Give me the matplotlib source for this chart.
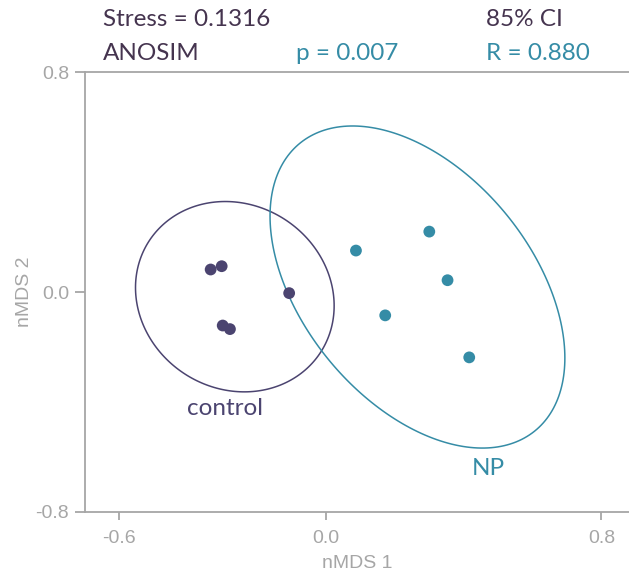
import numpy as np
import matplotlib
matplotlib.use("Agg")
import matplotlib.pyplot as plt
from matplotlib.patches import Polygon

# nMDS scores
control_x = [-0.335, -0.303, -0.300, -0.279, -0.107]
control_y = [0.082, 0.094, -0.122, -0.135, -0.004]
np_x = [0.087, 0.300, 0.353, 0.172, 0.416]
np_y = [0.151, 0.220, 0.043, -0.085, -0.238]

group_names = ["control", "NP"]
stress = 0.1316
anosim_p = 0.007
anosim_r = 0.880
ci_level = 0.85

x_ticks = [-0.6, 0.0, 0.8]
y_ticks = [-0.8, 0.0, 0.8]

PURPLE = "#4b4470"
TEAL = "#358ca6"
TXT_PURPLE = "#45344f"
GREY = "#a6a6a6"

plt.rcParams["font.family"] = ["Liberation Sans", "DejaVu Sans"]
LABEL_FONT = ["Lato", "DejaVu Sans"]


def ci_ellipse(x, y, level, n_pts=240):
    # Hotelling-type confidence ellipse around the group centroid
    pts = np.column_stack([x, y])
    n = len(pts)
    mean = pts.mean(axis=0)
    cov = np.cov(pts, rowvar=False)
    d2 = n - 2
    fq = d2 / 2 * ((1 - level) ** (-2 / d2) - 1)
    k = np.sqrt(2 * (n - 1) / d2 * fq)
    L = np.linalg.cholesky(cov)
    t = np.linspace(0, 2 * np.pi, n_pts, endpoint=False)
    circ = np.vstack([np.cos(t), np.sin(t)])
    ell = mean[:, None] + k * L @ circ
    return ell.T


fig = plt.figure(figsize=(6.29, 5.74), dpi=100)
ax = fig.add_axes([0.1351, 0.1085, 0.8649, 0.7655])

for xs, ys, col in [(control_x, control_y, PURPLE), (np_x, np_y, TEAL)]:
    ell = ci_ellipse(xs, ys, ci_level)
    ax.add_patch(Polygon(ell, closed=True, fill=False, edgecolor=col,
                         lw=1.1, zorder=2))
    ax.scatter(xs, ys, s=72, color=col, edgecolors="none", zorder=3)

ax.set_xlim(-0.7, 0.88)
ax.set_ylim(-0.8, 0.8)
ax.set_xticks(x_ticks)
ax.set_yticks(y_ticks)
ax.set_xticklabels([f"{v:.1f}" for v in x_ticks])
ax.set_yticklabels([f"{v:.1f}" for v in y_ticks])

for side in ["left", "top", "bottom"]:
    ax.spines[side].set_color(GREY)
    ax.spines[side].set_linewidth(1.3)
ax.spines["right"].set_visible(False)
ax.tick_params(axis="both", colors=GREY, labelsize=14, width=1.3)
ax.tick_params(axis="y", length=7.5, pad=4)
ax.tick_params(axis="x", length=6, pad=7)
ax.set_xlabel("nMDS 1", color=GREY, fontsize=14, labelpad=6)
ax.set_ylabel("nMDS 2", color=GREY, fontsize=14, labelpad=2)

# group labels
ax.text(-0.293, -0.424, group_names[0], color=PURPLE, fontsize=17.5,
        family=LABEL_FONT, ha="center", va="center")
ax.text(0.47, -0.643, group_names[1], color=TEAL, fontsize=17.5,
        family=LABEL_FONT, ha="center", va="center")

# header annotations
hdr = dict(fontsize=17.5, family=LABEL_FONT, va="center")
fig.text(103 / 629, 1 - 20 / 574, f"Stress = {stress}", color=TXT_PURPLE, **hdr)
fig.text(103 / 629, 1 - 53 / 574, "ANOSIM", color=TXT_PURPLE, **hdr)
fig.text(296 / 629, 1 - 53 / 574, f"p = {anosim_p:.3f}", color=TEAL, **hdr)
fig.text(486 / 629, 1 - 20 / 574, f"{int(ci_level * 100)}% CI", color=TXT_PURPLE, **hdr)
fig.text(486 / 629, 1 - 53 / 574, f"R = {anosim_r:.3f}", color=TEAL, **hdr)

fig.savefig("out.png", dpi=100)
